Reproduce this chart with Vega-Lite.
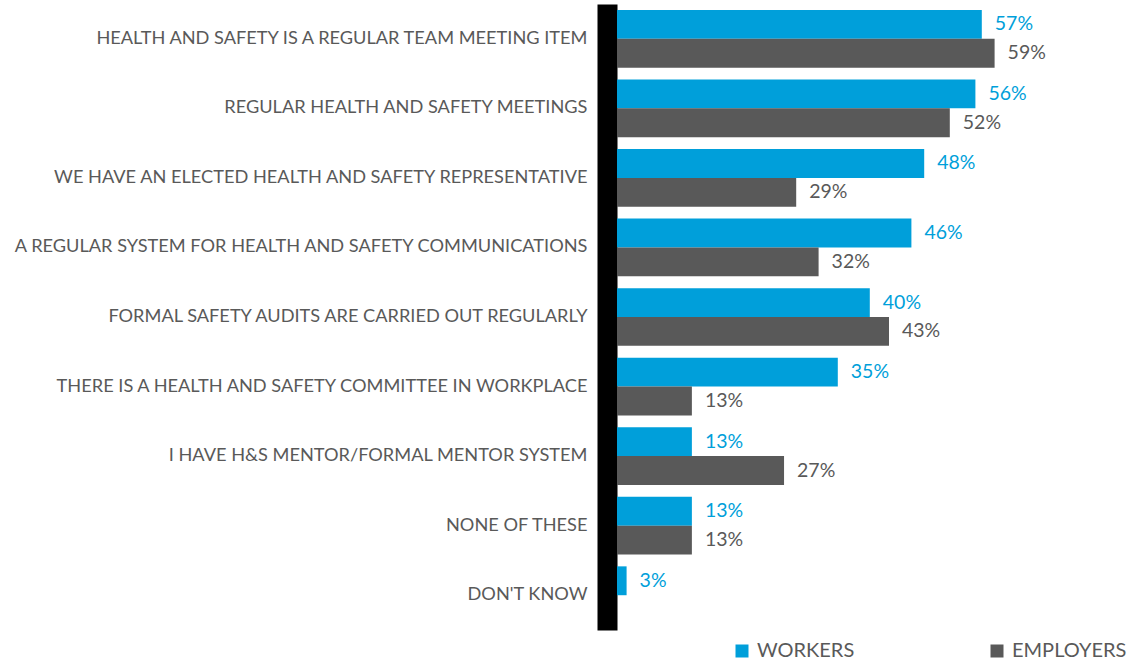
{
  "$schema": "https://vega.github.io/schema/vega-lite/v6.json",
  "autosize": {"type": "none"},
  "width": 512,
  "height": 626,
  "padding": {"left": 617, "top": 4, "right": 3, "bottom": 30},
  "background": "white",
  "config": {"view": {"stroke": null}, "font": "Lato"},
  "data": {"values": [
    {"item": "HEALTH AND SAFETY IS A REGULAR TEAM MEETING ITEM", "group": "WORKERS", "pct": 57, "label": "57%"},
    {"item": "HEALTH AND SAFETY IS A REGULAR TEAM MEETING ITEM", "group": "EMPLOYERS", "pct": 59, "label": "59%"},
    {"item": "REGULAR HEALTH AND SAFETY MEETINGS", "group": "WORKERS", "pct": 56, "label": "56%"},
    {"item": "REGULAR HEALTH AND SAFETY MEETINGS", "group": "EMPLOYERS", "pct": 52, "label": "52%"},
    {"item": "WE HAVE AN ELECTED HEALTH AND SAFETY REPRESENTATIVE", "group": "WORKERS", "pct": 48, "label": "48%"},
    {"item": "WE HAVE AN ELECTED HEALTH AND SAFETY REPRESENTATIVE", "group": "EMPLOYERS", "pct": 28, "label": "29%"},
    {"item": "A REGULAR SYSTEM FOR HEALTH AND SAFETY COMMUNICATIONS", "group": "WORKERS", "pct": 46, "label": "46%"},
    {"item": "A REGULAR SYSTEM FOR HEALTH AND SAFETY COMMUNICATIONS", "group": "EMPLOYERS", "pct": 31.5, "label": "32%"},
    {"item": "FORMAL SAFETY AUDITS ARE CARRIED OUT REGULARLY", "group": "WORKERS", "pct": 39.5, "label": "40%"},
    {"item": "FORMAL SAFETY AUDITS ARE CARRIED OUT REGULARLY", "group": "EMPLOYERS", "pct": 42.5, "label": "43%"},
    {"item": "THERE IS A HEALTH AND SAFETY COMMITTEE IN WORKPLACE", "group": "WORKERS", "pct": 34.5, "label": "35%"},
    {"item": "THERE IS A HEALTH AND SAFETY COMMITTEE IN WORKPLACE", "group": "EMPLOYERS", "pct": 11.7, "label": "13%"},
    {"item": "I HAVE H&S MENTOR/FORMAL MENTOR SYSTEM", "group": "WORKERS", "pct": 11.7, "label": "13%"},
    {"item": "I HAVE H&S MENTOR/FORMAL MENTOR SYSTEM", "group": "EMPLOYERS", "pct": 26.1, "label": "27%"},
    {"item": "NONE OF THESE", "group": "WORKERS", "pct": 11.7, "label": "13%"},
    {"item": "NONE OF THESE", "group": "EMPLOYERS", "pct": 11.7, "label": "13%"},
    {"item": "DON'T KNOW", "group": "WORKERS", "pct": 1.5, "label": "3%"}
  ]},
  "encoding": {
    "y": {
      "field": "item", "type": "nominal", "sort": null,
      "scale": {"paddingInner": 0.17, "paddingOuter": 0.085},
      "axis": {
        "title": null, "ticks": false, "domain": true, "domainColor": "black",
        "domainWidth": 20, "offset": 10, "labelPadding": 20,
        "labelFontSize": 18.2, "labelColor": "#595959", "labelLimit": 700,
        "labelFont": "Lato"
      }
    },
    "yOffset": {"field": "group", "type": "nominal", "sort": ["WORKERS", "EMPLOYERS"], "scale": {"paddingInner": 0, "paddingOuter": 0}},
    "x": {
      "field": "pct", "type": "quantitative",
      "scale": {"domain": [0, 80], "nice": false},
      "axis": null
    }
  },
  "layer": [
    {
      "mark": {"type": "bar"},
      "encoding": {
        "color": {
          "field": "group", "type": "nominal",
          "scale": {"domain": ["WORKERS", "EMPLOYERS"], "range": ["#009FDA", "#595959"]},
          "legend": {
            "title": null, "orient": "none", "legendX": 115, "legendY": 637,
            "direction": "horizontal", "symbolType": "square", "symbolSize": 169,
            "symbolStrokeWidth": 0, "labelFontSize": 20, "labelColor": "#595959",
            "labelFont": "Lato", "columnPadding": 132, "symbolOffset": 0, "labelOffset": 5
          }
        }
      }
    },
    {
      "mark": {"type": "text", "align": "left", "baseline": "middle", "dx": 13, "fontSize": 19.5, "font": "Lato"},
      "encoding": {
        "text": {"field": "label", "type": "nominal"},
        "color": {
          "field": "group", "type": "nominal",
          "scale": {"domain": ["WORKERS", "EMPLOYERS"], "range": ["#009FDA", "#595959"]},
          "legend": null
        }
      }
    }
  ]
}
